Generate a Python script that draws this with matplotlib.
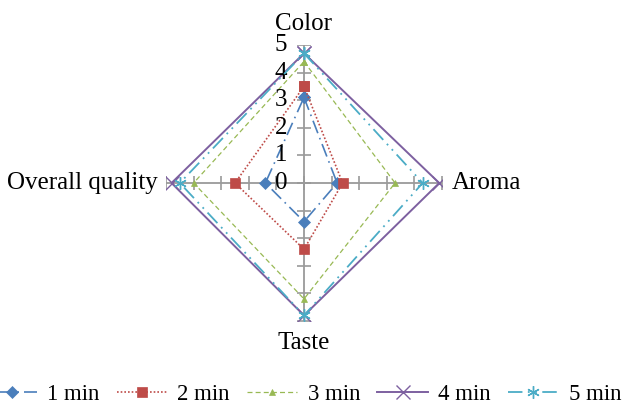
import numpy as np
import matplotlib.pyplot as plt

# data
categories = ['Color', 'Aroma', 'Taste', 'Overall quality']
series_names = ['1 min', '2 min', '3 min', '4 min', '5 min']
min1 = [3.1, 1.2, 1.4, 1.4]
min2 = [3.5, 1.4, 2.4, 2.5]
min3 = [4.4, 3.3, 4.2, 4.0]
min4 = [4.7, 4.9, 4.8, 4.8]
min5 = [4.7, 4.3, 4.8, 4.5]
r_ticks = [0, 1, 2, 3, 4, 5]

plt.rcParams['font.family'] = ['Liberation Serif', 'DejaVu Serif']

colors = ['#4A7EBB', '#BE4B48', '#98B954', '#7D60A0', '#4BACC6']
styles = [(0, (8, 3, 1, 3)), (0, (1, 1.2)), (0, (4, 2.5)), '-', (0, (8, 3, 1, 3, 1, 3))]
markers = ['D', 's', '^', 'x', (6, 2, 0)]
msizes = [6.5, 7.5, 5, 10, 9]
lws = [1.2, 1.2, 0.9, 1.4, 1.3]

# clockwise from top
angles = np.pi / 2 - np.arange(len(categories)) * 2 * np.pi / len(categories)

fig = plt.figure(figsize=(6.25, 4.08), dpi=100)
ax = fig.add_axes([166 / 625, 87 / 408, 276 / 625, 276 / 408])
ax.set_xlim(-5, 5)
ax.set_ylim(-5, 5)
ax.axis('off')

# spokes and tick marks
for a in angles:
    ax.plot([0, 5 * np.cos(a)], [0, 5 * np.sin(a)], color='#9A9A9A', lw=1.3, zorder=1)
    tx = np.array(r_ticks) * np.cos(a)
    ty = np.array(r_ticks) * np.sin(a)
    mk = '_' if abs(np.cos(a)) < 0.5 else '|'
    ax.plot(tx, ty, ls='none', marker=mk, ms=10, mew=1.2, color='#9A9A9A', zorder=1)

for t in r_ticks:
    ax.annotate(str(t), (0, t), xytext=(-12, 0), textcoords='offset points',
                ha='right', va='center', fontsize=18, zorder=6)

offsets = [(0, 15), (7, 0), (0, -16), (-6, 0)]
aligns = [('center', 'center'), ('left', 'center'), ('center', 'center'), ('right', 'center')]
for cat, a, off, (ha, va) in zip(categories, angles, offsets, aligns):
    ax.annotate(cat, (5 * np.cos(a), 5 * np.sin(a)), xytext=off, textcoords='offset points',
                ha=ha, va=va, fontsize=18)

all_vals = [min1, min2, min3, min4, min5]
handles = []
for i, vals in enumerate(all_vals):
    v = np.array(vals + vals[:1])
    aa = np.concatenate([angles, angles[:1]])
    ln, = ax.plot(v * np.cos(aa), v * np.sin(aa), color=colors[i], ls=styles[i], lw=lws[i],
                  marker=markers[i], ms=msizes[i], mew=1.0 if i >= 3 else 0.5,
                  label=series_names[i], zorder=2 + i)
    handles.append(ln)

fig.legend(handles=handles, loc='center', bbox_to_anchor=(0.486, 0.032), ncol=5,
           frameon=False, fontsize=16.5, handlelength=2.2, handletextpad=0.45,
           columnspacing=0.75, borderaxespad=0)

fig.savefig('out.png', dpi=100)
